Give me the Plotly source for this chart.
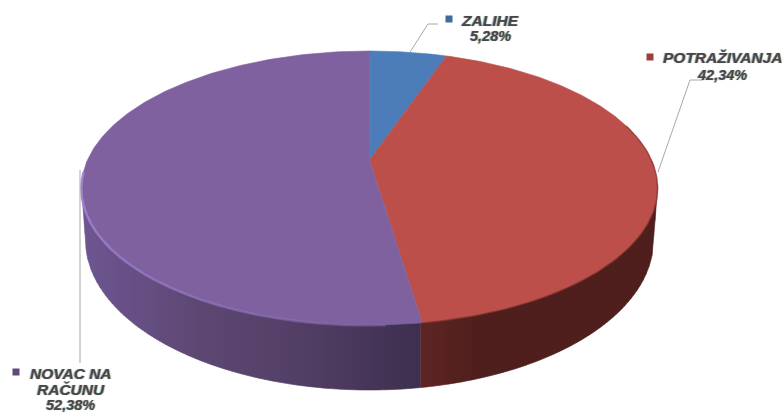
import math
import numpy as np
import plotly.graph_objects as go

categories = ["ZALIHE", "POTRAŽIVANJA", "NOVAC NA<br>RAČUNU"]
values = [5.28, 42.34, 52.38]
top_colors = ["#4c7db8", "#bd4f4b", "#7f61a0"]
key_colors = ["#3f6a9c", "#9c3f3c", "#5f4a7b"]

W, H = 783, 412
CX, CY = 369.5, 160.0
A, B, K = 282.0, 131.3, 0.2044
BOT_RX, BOT_RY, BOT_CY = 284.0, 150.0, 240.0
TEXT = "#46464e"
FONT = "Liberation Sans"
SHADOW = "0.8px 0 0.7px rgba(225,150,60,0.6), -0.8px 0 0.7px rgba(60,130,220,0.6)"


def project(theta_deg):
    t = np.radians(np.asarray(theta_deg, dtype=float))
    X, Y = np.sin(t), np.cos(t)
    d = 1 + K * Y
    return CX + A * X / d, CY - B * Y / d


def hexrgb(c):
    return [int(c[i:i + 2], 16) for i in (1, 3, 5)]


def ramp(x, stops):
    xs = [s[0] for s in stops]
    cols = np.array([hexrgb(s[1]) for s in stops], dtype=float)
    return "rgb(%d,%d,%d)" % tuple(np.interp(x, xs, cols[:, i]) for i in range(3))


fig = go.Figure()


def poly(xs, ys, color):
    fig.add_trace(go.Scatter(x=list(xs), y=list(ys), mode="lines", fill="toself",
                             fillcolor=color, line=dict(color=color, width=0.6),
                             hoverinfo="skip", showlegend=False))


def line(xs, ys, color, width):
    fig.add_trace(go.Scatter(x=list(xs), y=list(ys), mode="lines",
                             line=dict(color=color, width=width),
                             hoverinfo="skip", showlegend=False))


cum = np.cumsum([0] + values) / sum(values) * 360.0

# side wall
arc_t = np.linspace(90, 270, 721)
arc_x, arc_y = project(arc_t)
order = np.argsort(arc_x)
arc_x, arc_y = arc_x[order], arc_y[order]
xmin, xmax = arc_x[0], arc_x[-1]
split_x = float(project(cum[2])[0]) - 1.5


def lower_top(x):
    return np.interp(x, arc_x, arc_y)


def lower_bot(x):
    dx = np.abs(x - CX)
    inside = np.clip(dx / BOT_RX, 0, 1)
    y = BOT_CY + BOT_RY * np.sqrt(1 - inside ** 2)
    over = np.clip((dx - BOT_RX) / max(1e-6, (xmax - xmin) / 2 - BOT_RX), 0, 1)
    return y - over * (BOT_CY - arc_y[0])


purple_stops = [(81, "#6f5692"), (200, "#5d4873"), (300, "#533f66"), (420, "#3e3050")]
red_stops = [(420, "#5e2624"), (480, "#4f1f1d"), (660, "#4f1f1d")]

edges = sorted(set(np.arange(math.ceil(xmin), xmax, 3.0).tolist() + [xmin, xmax, split_x]))
for x0, x1 in zip(edges[:-1], edges[1:]):
    xs = np.linspace(x0, x1, 4)
    mid = (x0 + x1) / 2
    col = ramp(mid, purple_stops if mid < split_x else red_stops)
    poly(np.r_[xs, xs[::-1]], np.r_[lower_top(xs) - 2, lower_bot(xs[::-1])], col)

# top face
for i in range(3):
    t = np.linspace(cum[i], cum[i + 1], 200)
    px, py = project(t)
    poly(np.r_[CX, px, CX], np.r_[CY, py, CY], top_colors[i])

# rim highlights
rim_t = np.linspace(cum[3] - 95, cum[2] + 6, 26)
for a, b in zip(rim_t[:-1], rim_t[1:]):
    frac = (a - rim_t[-1]) / (rim_t[0] - rim_t[-1])
    px, py = project(np.linspace(a, b, 6))
    line(px, py + 0.6, "rgba(160,130,210,%.2f)" % (0.3 + 0.7 * frac), 2.4)
px, py = project(np.linspace(cum[1] + 55, cum[2], 80))
line(px, py + 0.3, "rgba(120,50,47,0.55)", 1.6)

# leader lines
for lx, ly in [([410, 428, 438], [52, 24, 24]),
               ([658, 690, 703], [172, 80, 80]),
               ([80, 80], [170, 363])]:
    line(lx, ly, "#a8a8a8", 1)

# label keys
fig.add_trace(go.Scatter(x=[449, 650, 16], y=[19, 57, 372], mode="markers",
                         marker=dict(symbol="square", size=7, color=key_colors,
                                     line=dict(width=0)),
                         hoverinfo="skip", showlegend=False))

label_x = [490, 722, 70.5]
label_y = [20, 57, 373]
pct_y = [36, 75, 404.5]
line_gap = 16
for name, v, lx, ly, py in zip(categories, values, label_x, label_y, pct_y):
    for j, part in enumerate(name.split("<br>")):
        fig.add_annotation(x=lx, y=ly + j * line_gap, text=part, showarrow=False,
                           xanchor="center", yanchor="middle",
                           font=dict(family=FONT, size=15.5, color=TEXT, style="italic",
                                     weight="bold", shadow=SHADOW))
    fig.add_annotation(x=lx, y=py, text=f"{v:.2f}%".replace(".", ","), showarrow=False,
                       xanchor="center", yanchor="middle",
                       font=dict(family=FONT, size=14.5, color=TEXT, style="italic",
                                 weight="bold", shadow=SHADOW))

fig.update_layout(
    width=W, height=H, margin=dict(l=0, r=0, t=0, b=0),
    paper_bgcolor="white", plot_bgcolor="white",
    xaxis=dict(range=[0, W], visible=False, fixedrange=True),
    yaxis=dict(range=[H, 0], visible=False, fixedrange=True),
)
fig.write_html("out.html", config={"displayModeBar": False},
               post_script="document.body.style.margin='0';")
